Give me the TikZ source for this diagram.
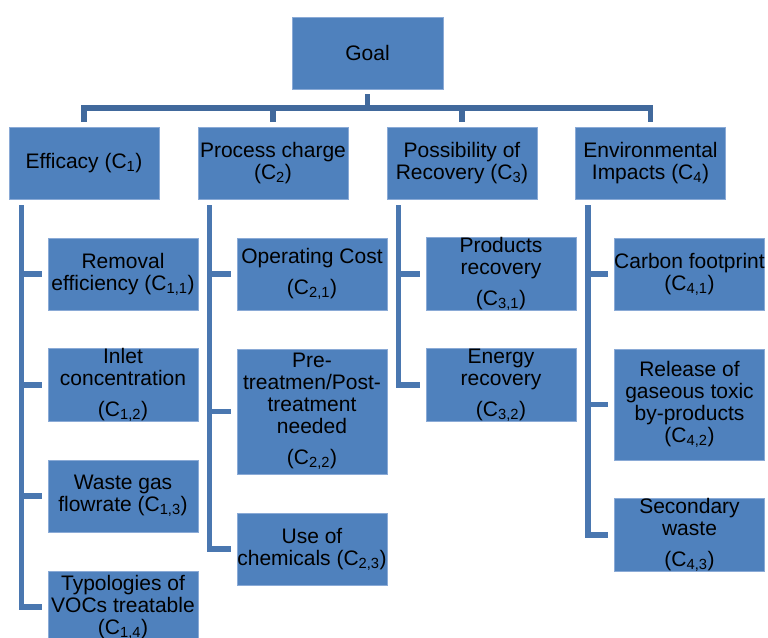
\documentclass[tikz,border=0pt]{standalone}
\usepackage{fontspec}
\setmainfont{Liberation Sans}
\definecolor{boxfill}{HTML}{4F81BD}
\definecolor{boxedge}{HTML}{8AAAD6}
\definecolor{barcol}{HTML}{41699C}
\definecolor{linecol}{HTML}{4A77B0}
\newcommand{\crit}[1]{(C\textsubscript{#1})}
\begin{document}
\begin{tikzpicture}[x=1pt,y=-1pt,
  box/.style={draw=boxedge,line width=0.8pt,fill=boxfill,inner sep=0pt,
    minimum width=150pt,minimum height=72pt,align=center,
    font=\fontsize{21}{22}\selectfont},
  topconn/.style={draw=barcol,line width=5.5pt},
  conn/.style={draw=linecol,line width=5.5pt}]
\useasboundingbox (0,0) rectangle (768,637);

\node[box,minimum width=151pt] (goal) at (367.5,53) {Goal};

\node[box] (c1) at (84,163) {Efficacy \crit{1}};
\node[box] (c2) at (273,163) {Process charge\\\crit{2}};
\node[box] (c3) at (462,163) {Possibility of\\Recovery \crit{3}};
\node[box] (c4) at (650.5,163) {Environmental\\Impacts \crit{4}};

\node[box] (c11) at (123,274) {Removal\\efficiency \crit{1,1}};
\node[box] (c12) at (123,385) {Inlet\\concentration\\[9pt]\crit{1,2}};
\node[box] (c13) at (123,496) {Waste gas\\flowrate \crit{1,3}};
\node[box] (c14) at (123,607) {Typologies of\\VOCs treatable\\\crit{1,4}};

\node[box] (c21) at (312,274) {Operating Cost\\[9pt]\crit{2,1}};
\node[box,minimum height=125pt] (c22) at (312,411.5) {Pre-\\treatmen/Post-\\treatment\\needed\\[9pt]\crit{2,2}};
\node[box] (c23) at (312,549) {Use of\\chemicals \crit{2,3}};

\node[box] (c31) at (501,274) {Products\\recovery\\[9pt]\crit{3,1}};
\node[box] (c32) at (501,385) {Energy\\recovery\\[9pt]\crit{3,2}};

\node[box] (c41) at (689.5,274) {Carbon footprint\\\crit{4,1}};
\node[box,minimum height=111pt] (c42) at (689.5,404.5) {Release of\\gaseous toxic\\by-products\\\crit{4,2}};
\node[box] (c43) at (689.5,535) {Secondary\\waste\\[9pt]\crit{4,3}};

% top level connectors
\coordinate (bar) at (367,108);
\draw[topconn] ([yshift=-5pt]goal.south) -- (goal.south |- bar);
\draw[topconn] ([yshift=5pt]c1.north) -- (c1.north |- bar) -- (c4.north |- bar) -- ([yshift=5pt]c4.north);
\draw[topconn] ([yshift=5pt]c2.north) -- (c2.north |- bar);
\draw[topconn] ([yshift=5pt]c3.north) -- (c3.north |- bar);

% column connectors
\coordinate (v1) at ([xshift=13pt,yshift=-6pt]c1.south west);
\coordinate (v2) at ([xshift=12pt,yshift=-6pt]c2.south west);
\coordinate (v3) at ([xshift=12pt,yshift=-6pt]c3.south west);
\coordinate (v4) at ([xshift=13pt,yshift=-6pt]c4.south west);

\draw[conn] (v1) |- ([xshift=-6pt]c14.west);
\draw[conn] (v1 |- c11.west) -- ([xshift=-6pt]c11.west);
\draw[conn] (v1 |- c12.west) -- ([xshift=-6pt]c12.west);
\draw[conn] (v1 |- c13.west) -- ([xshift=-6pt]c13.west);

\draw[conn] (v2) |- ([xshift=-6pt]c23.west);
\draw[conn] (v2 |- c21.west) -- ([xshift=-6pt]c21.west);
\draw[conn] (v2 |- c22.west) -- ([xshift=-6pt]c22.west);

\draw[conn] (v3) |- ([xshift=-6pt]c32.west);
\draw[conn] (v3 |- c31.west) -- ([xshift=-6pt]c31.west);

\draw[conn] (v4) |- ([xshift=-6pt]c43.west);
\draw[conn] (v4 |- c41.west) -- ([xshift=-6pt]c41.west);
\draw[conn] (v4 |- c42.west) -- ([xshift=-6pt]c42.west);
\end{tikzpicture}
\end{document}
